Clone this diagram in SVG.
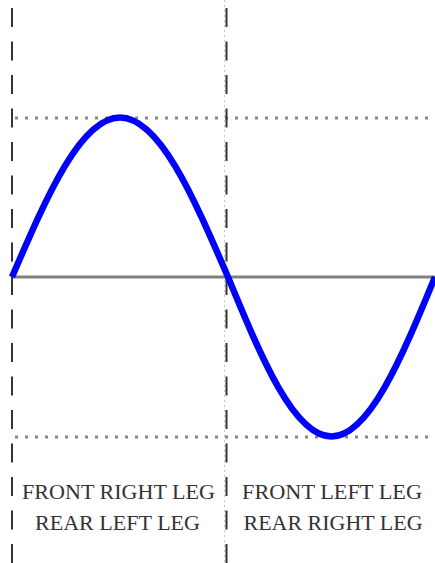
<svg xmlns="http://www.w3.org/2000/svg" width="435" height="563" viewBox="0 0 435 563">
<style>
.dash{stroke:#333;stroke-width:2;stroke-dasharray:19 14.5;fill:none}
.faint{stroke:#c8c8c8;stroke-width:1;stroke-dasharray:2 3;fill:none}
.dot{stroke:#888;stroke-width:3;stroke-dasharray:3 7;fill:none}
.axis{stroke:#808080;stroke-width:3;fill:none}
.wave{stroke:#0000ff;stroke-width:6.5;fill:none;stroke-linejoin:round}
.lbl{font-family:"Liberation Serif","Times New Roman",serif;font-size:22px;fill:#333;text-anchor:middle}
</style>
<rect width="435" height="563" fill="#fff"/>
<g id="guides">
<line class="dot" x1="15" y1="118" x2="435" y2="118"/>
<line class="dot" x1="15" y1="437" x2="435" y2="437"/>
<line class="axis" x1="12" y1="277" x2="435" y2="277"/>
<line class="faint" x1="224.5" y1="0" x2="224.5" y2="563"/>
<line class="dash" x1="12" y1="8" x2="12" y2="563"/>
<line class="dash" x1="226.5" y1="8" x2="226.5" y2="563"/>
</g>
<g id="wave">
<path class="wave" d="M12,277 C47.2,195.3 80.9,117.5 120,117.5 C159.1,117.5 192.8,195.3 228,277 C261.75,358.7 294.05,436.5 331.5,436.5 C368.95,436.5 401.25,358.7 435,277"/>
</g>
<g id="label-left">
<text class="lbl" x="118.5" y="499" textLength="193" lengthAdjust="spacingAndGlyphs">FRONT RIGHT LEG</text>
<text class="lbl" x="117.5" y="530" textLength="165" lengthAdjust="spacingAndGlyphs">REAR LEFT LEG</text>
</g>
<g id="label-right">
<text class="lbl" x="332" y="499" textLength="180" lengthAdjust="spacingAndGlyphs">FRONT LEFT LEG</text>
<text class="lbl" x="333" y="530" textLength="179" lengthAdjust="spacingAndGlyphs">REAR RIGHT LEG</text>
</g>
</svg>
